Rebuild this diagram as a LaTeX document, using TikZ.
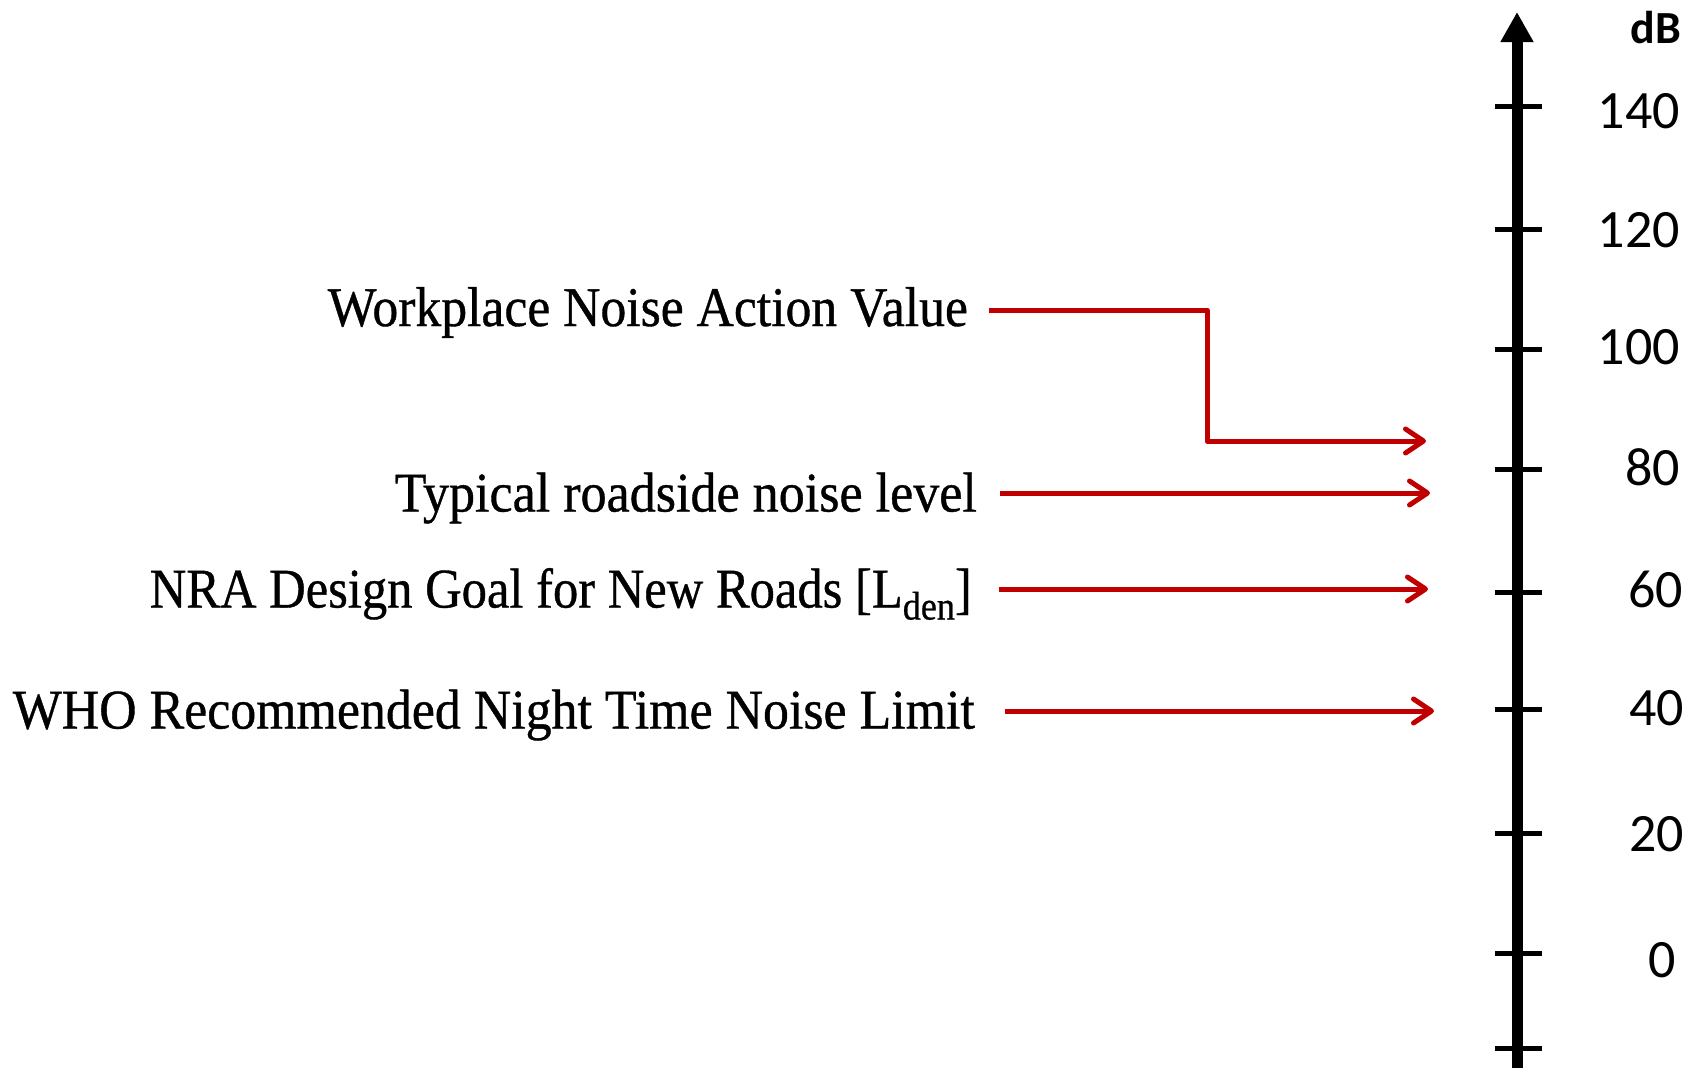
\documentclass[tikz,border=0pt]{standalone}
\usepackage{fontspec}
\setmainfont{Liberation Serif}
\newfontfamily\labelfont{Liberation Serif}[FakeBold=0.7]
\newfontfamily\numfont{Carlito}
\usetikzlibrary{arrows.meta}
\definecolor{arrowred}{HTML}{C00000}
\tikzset{
  redarrow/.style={draw=arrowred, line width=5pt, line join=round,
    -{Straight Barb[length=18pt,width=24pt,round]}},
  tickmark/.style={line width=5pt},
  axisline/.style={line width=11pt, -{Triangle[length=30pt,width=31pt]}},
  numlabel/.style={anchor=base east, inner sep=0pt, font=\numfont\fontsize{54}{54}\selectfont},
  levellabel/.style={anchor=base east, inner sep=0pt, font=\labelfont\fontsize{56}{56}\selectfont}
}
\begin{document}
\begin{tikzpicture}[x=1pt,y=-1pt]
\useasboundingbox (0,0) rectangle (1692,1068);
% axis
\coordinate (axbot) at (1517,1068);
\coordinate (axtop) at (1517,12);
\draw[axisline] (axbot) -- (axtop);
\foreach \yy/\nm in {106/t140,229/t120,349/t100,469/t80,592/t60,709/t40,833/t20,953/t0,1048/tm}{
  \coordinate (\nm) at (1517,\yy);
  \draw[tickmark] ([xshift=-22pt]\nm) -- ([xshift=25pt]\nm);
}
% axis labels
\node[anchor=base east, inner sep=0pt, font=\numfont\bfseries\fontsize{46}{46}\selectfont] (db) at (1681,43) {dB};
\node[numlabel] (l140) at (1680,128) {140};
\node[numlabel] (l120) at (1680,247) {120};
\node[numlabel] (l100) at (1680,364) {100};
\node[numlabel] (l80) at (1680,485) {80};
\node[numlabel] (l60) at (1683,607) {60};
\node[numlabel] (l40) at (1684,725) {40};
\node[numlabel] (l20) at (1684,851) {20};
\node[numlabel] (l0) at (1676,977) {0};
% level labels
\node[levellabel] (wp) at (968,326) {\resizebox{640pt}{\height}{Workplace Noise Action Value}};
\node[levellabel] (tr) at (977,511.5) {\resizebox{582pt}{\height}{Typical roadside noise level}};
\node[levellabel] (nra) at (972,607.5) {\resizebox{822pt}{\height}{NRA Design Goal for New Roads [L\raisebox{-12pt}{\fontsize{40}{40}\selectfont den}]}};
\node[levellabel] (who) at (975,728.5) {\resizebox{962pt}{\height}{WHO Recommended Night Time Noise Limit}};
% arrows
\coordinate (wpS) at (989,310);
\coordinate (wpC1) at (1207,310);
\coordinate (wpC2) at (1207,441);
\coordinate (wpE) at (1426,441);
\coordinate (trS) at (1000,493);
\coordinate (trE) at (1430,493);
\coordinate (nraS) at (999,589);
\coordinate (nraE) at (1428,589);
\coordinate (whoS) at (1005,711);
\coordinate (whoE) at (1434,711);
\draw[redarrow] (wpS) -- (wpC1) -- (wpC2) -- (wpE);
\draw[redarrow] (trS) -- (trE);
\draw[redarrow] (nraS) -- (nraE);
\draw[redarrow] (whoS) -- (whoE);
\end{tikzpicture}
\end{document}
